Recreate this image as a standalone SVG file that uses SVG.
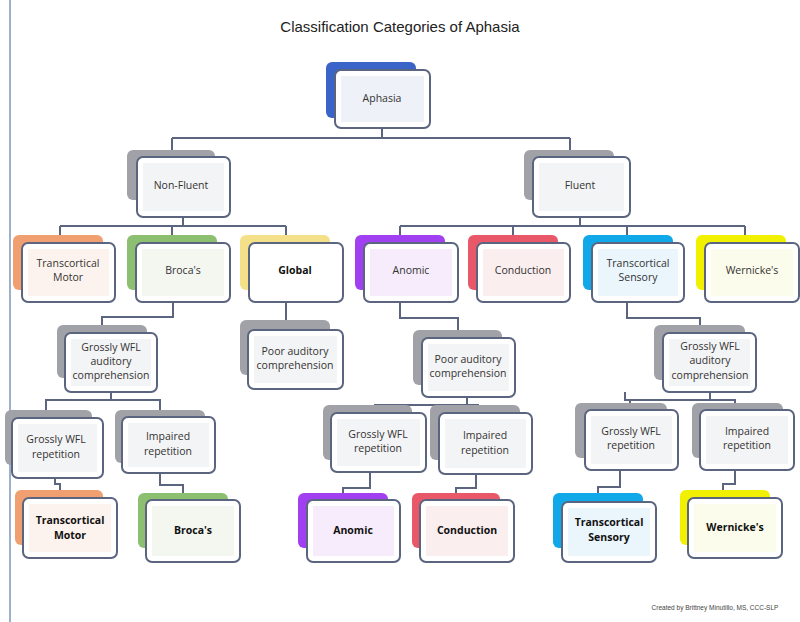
<svg xmlns="http://www.w3.org/2000/svg" width="800" height="622" viewBox="0 0 800 622">
<style>
.f{fill:#fff;stroke:#5b6580;stroke-width:2}
.t{font-family:"Open Sans","Liberation Sans",sans-serif;font-size:10.5px;fill:#333;text-anchor:middle}
.b{font-weight:bold;fill:#111}
.c{fill:none;stroke:#5b6580;stroke-width:2}
</style>
<rect width="800" height="622" fill="#fff"/>
<line x1="10" y1="0" x2="10" y2="622" stroke="#9fb0cc" stroke-width="2"/>
<text x="400" y="32" font-family="Liberation Sans,Arial,sans-serif" font-size="15" text-anchor="middle" fill="#222">Classification Categories of Aphasia</text>
<text x="715" y="610" font-family="Liberation Sans,Arial,sans-serif" font-size="6.5" text-anchor="middle" fill="#444">Created by Brittney Minutillo, MS, CCC-SLP</text>
<g id="connectors" class="c">
<path class="c" d="M382 128V138M172 138H570M172 138V155M570 138V155"/>
<path class="c" d="M183 217V226M60 226H286M60 226V235M172 226V235M286 226V243"/>
<path class="c" d="M580 217V226M400 226H745M400 226V235M513 226V235M627 226V235M745 226V235"/>
<path class="c" d="M173 302V317H102V325M286 302V320M400 302V318H458V330M627 302V318H700V325"/>
<path class="c" d="M111 392V400H46V410M111 400H160V410M467 397V405H375V413M467 405H478V405V410M625 392V400H630V403M710 392V400H735V403M630 400H735"/>
<path class="c" d="M55 478V484H60V490M160 473V485H183V493M370 472V488H343V493M476 474V488H456V493M620 470V487H598V493M735 470V484H723V490"/>
</g>
<g id="aphasia"><rect x="326" y="62" width="90" height="56" rx="6" fill="#3a64c8"/><rect class="f" x="335" y="70" width="95" height="58" rx="6"/><rect x="341" y="76" width="83" height="46" fill="#eef1f8"/><text class="t" x="382" y="102">Aphasia</text></g>
<g id="nonfluent"><rect x="127" y="150" width="88" height="50" rx="6" fill="#a0a2a8"/><rect class="f" x="137" y="157" width="93" height="60" rx="6"/><rect x="143" y="163" width="81" height="48" fill="#f3f4f5"/><text class="t" x="181" y="189">Non-Fluent</text></g>
<g id="fluent"><rect x="524" y="150" width="90" height="50" rx="6" fill="#a0a2a8"/><rect class="f" x="533" y="157" width="97" height="60" rx="6"/><rect x="539" y="163" width="85" height="48" fill="#f3f4f5"/><text class="t" x="580" y="189">Fluent</text></g>
<g id="tcm1"><rect x="13" y="235" width="90" height="55" rx="6" fill="#f0a070"/><rect class="f" x="22" y="243" width="93" height="59" rx="6"/><rect x="28" y="249" width="81" height="47" fill="#fdf3ee"/><text class="t" x="68" y="267">Transcortical</text><text class="t" x="68" y="281">Motor</text></g>
<g id="broca1"><rect x="127" y="235" width="90" height="55" rx="6" fill="#8cc070"/><rect class="f" x="136" y="243" width="94" height="59" rx="6"/><rect x="142" y="249" width="82" height="47" fill="#f4f7f0"/><text class="t" x="183" y="274">Broca's</text></g>
<g id="global1"><rect x="240" y="235" width="90" height="55" rx="6" fill="#f5e08a"/><rect class="f" x="249" y="243" width="94" height="59" rx="6"/><text class="t b" x="295" y="274">Global</text></g>
<g id="anomic1"><rect x="355" y="235" width="90" height="55" rx="6" fill="#a040f0"/><rect class="f" x="364" y="243" width="94" height="59" rx="6"/><rect x="370" y="249" width="82" height="47" fill="#f6ecfb"/><text class="t" x="411" y="274">Anomic</text></g>
<g id="cond1"><rect x="468" y="235" width="90" height="55" rx="6" fill="#e85868"/><rect class="f" x="477" y="243" width="93" height="59" rx="6"/><rect x="483" y="249" width="81" height="47" fill="#fbeeee"/><text class="t" x="523" y="274">Conduction</text></g>
<g id="tcs1"><rect x="583" y="235" width="90" height="55" rx="6" fill="#10a8e8"/><rect class="f" x="592" y="243" width="92" height="59" rx="6"/><rect x="598" y="249" width="80" height="47" fill="#eaf5fc"/><text class="t" x="638" y="267">Transcortical</text><text class="t" x="638" y="281">Sensory</text></g>
<g id="wern1"><rect x="696" y="235" width="90" height="55" rx="6" fill="#f0f000"/><rect class="f" x="705" y="243" width="94" height="59" rx="6"/><rect x="711" y="249" width="82" height="47" fill="#fcfcec"/><text class="t" x="752" y="274">Wernicke's</text></g>
<g id="gwac1"><rect x="57" y="325" width="90" height="53" rx="6" fill="#a0a2a8"/><rect class="f" x="65" y="333" width="92" height="59" rx="6"/><rect x="71" y="339" width="80" height="47" fill="#f3f4f5"/><text class="t" x="111" y="351">Grossly WFL</text><text class="t" x="111" y="365">auditory</text><text class="t" x="111" y="379">comprehension</text></g>
<g id="pac1"><rect x="240" y="320" width="90" height="55" rx="6" fill="#a0a2a8"/><rect class="f" x="248" y="330" width="95" height="59" rx="6"/><rect x="254" y="336" width="83" height="47" fill="#f3f4f5"/><text class="t" x="295" y="355">Poor auditory</text><text class="t" x="295" y="369">comprehension</text></g>
<g id="pac2"><rect x="413" y="330" width="89" height="55" rx="6" fill="#a0a2a8"/><rect class="f" x="422" y="338" width="93" height="59" rx="6"/><rect x="428" y="344" width="81" height="47" fill="#f3f4f5"/><text class="t" x="468" y="363">Poor auditory</text><text class="t" x="468" y="377">comprehension</text></g>
<g id="gwac2"><rect x="654" y="325" width="91" height="55" rx="6" fill="#a0a2a8"/><rect class="f" x="663" y="333" width="93" height="59" rx="6"/><rect x="669" y="339" width="81" height="47" fill="#f3f4f5"/><text class="t" x="710" y="350">Grossly WFL</text><text class="t" x="710" y="364">auditory</text><text class="t" x="710" y="379">comprehension</text></g>
<g id="gwr1"><rect x="5" y="410" width="87" height="55" rx="6" fill="#a0a2a8"/><rect class="f" x="12" y="418" width="91" height="60" rx="6"/><rect x="18" y="424" width="79" height="48" fill="#f3f4f5"/><text class="t" x="56" y="443">Grossly WFL</text><text class="t" x="56" y="458">repetition</text></g>
<g id="ir1"><rect x="115" y="410" width="90" height="53" rx="6" fill="#a0a2a8"/><rect class="f" x="122" y="417" width="93" height="56" rx="6"/><rect x="128" y="423" width="81" height="44" fill="#f3f4f5"/><text class="t" x="168" y="440">Impaired</text><text class="t" x="168" y="455">repetition</text></g>
<g id="gwr2"><rect x="323" y="405" width="89" height="55" rx="6" fill="#a0a2a8"/><rect class="f" x="331" y="413" width="95" height="59" rx="6"/><rect x="337" y="419" width="83" height="47" fill="#f3f4f5"/><text class="t" x="378" y="438">Grossly WFL</text><text class="t" x="378" y="452">repetition</text></g>
<g id="ir2"><rect x="430" y="405" width="90" height="55" rx="6" fill="#a0a2a8"/><rect class="f" x="439" y="413" width="93" height="61" rx="6"/><rect x="445" y="419" width="81" height="49" fill="#f3f4f5"/><text class="t" x="485" y="439">Impaired</text><text class="t" x="485" y="454">repetition</text></g>
<g id="gwr3"><rect x="575" y="403" width="92" height="55" rx="6" fill="#a0a2a8"/><rect class="f" x="585" y="410" width="93" height="60" rx="6"/><rect x="591" y="416" width="81" height="48" fill="#f3f4f5"/><text class="t" x="631" y="435">Grossly WFL</text><text class="t" x="631" y="449">repetition</text></g>
<g id="ir3"><rect x="692" y="403" width="91" height="55" rx="6" fill="#a0a2a8"/><rect class="f" x="700" y="410" width="94" height="60" rx="6"/><rect x="706" y="416" width="82" height="48" fill="#f3f4f5"/><text class="t" x="747" y="435">Impaired</text><text class="t" x="747" y="449">repetition</text></g>
<g id="tcm2"><rect x="15" y="490" width="88" height="55" rx="6" fill="#f0a070"/><rect class="f" x="23" y="498" width="94" height="60" rx="6"/><rect x="29" y="504" width="82" height="48" fill="#fdf3ee"/><text class="t b" x="70" y="524">Transcortical</text><text class="t b" x="70" y="539">Motor</text></g>
<g id="broca2"><rect x="138" y="493" width="90" height="55" rx="6" fill="#8cc070"/><rect class="f" x="146" y="500" width="94" height="62" rx="6"/><rect x="152" y="506" width="82" height="50" fill="#f4f7f0"/><text class="t b" x="193" y="534">Broca's</text></g>
<g id="anomic2"><rect x="298" y="493" width="90" height="55" rx="6" fill="#a040f0"/><rect class="f" x="307" y="500" width="93" height="62" rx="6"/><rect x="313" y="506" width="81" height="50" fill="#f6ecfb"/><text class="t b" x="353" y="534">Anomic</text></g>
<g id="cond2"><rect x="412" y="493" width="88" height="55" rx="6" fill="#e85868"/><rect class="f" x="420" y="500" width="94" height="62" rx="6"/><rect x="426" y="506" width="82" height="50" fill="#fbeeee"/><text class="t b" x="467" y="534">Conduction</text></g>
<g id="tcs2"><rect x="553" y="493" width="90" height="55" rx="6" fill="#10a8e8"/><rect class="f" x="562" y="502" width="94" height="60" rx="6"/><rect x="568" y="508" width="82" height="48" fill="#eaf5fc"/><text class="t b" x="609" y="526">Transcortical</text><text class="t b" x="609" y="541">Sensory</text></g>
<g id="wern2"><rect x="680" y="490" width="90" height="55" rx="6" fill="#f0f000"/><rect class="f" x="688" y="498" width="94" height="60" rx="6"/><rect x="694" y="504" width="82" height="48" fill="#fcfcec"/><text class="t b" x="735" y="531">Wernicke's</text></g>
</svg>
